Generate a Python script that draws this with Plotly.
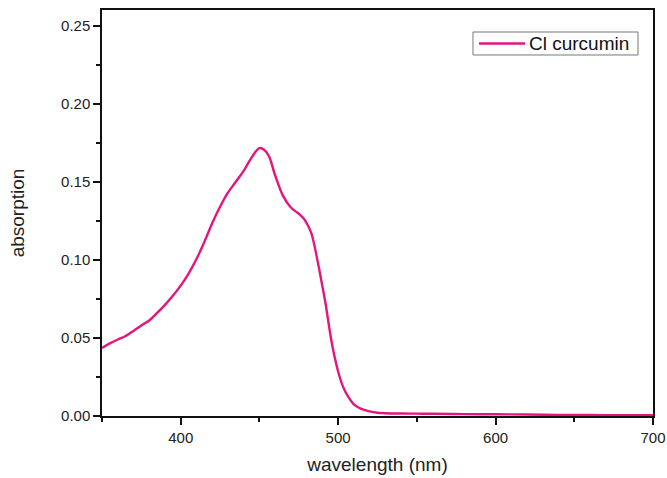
import plotly.graph_objects as go

wavelength = [350, 355, 360, 365, 370, 375, 380, 385, 390, 395, 400, 405, 410, 415,
              420, 425, 430, 435, 440, 445, 450, 453, 456, 460, 465, 470, 475, 478,
              480, 483, 487, 490, 492, 496, 500, 503, 506, 510, 514, 520, 525, 530,
              540, 550, 560, 580, 600, 620, 640, 660, 680, 700]
absorption = [0.0436, 0.0465, 0.0490, 0.0512, 0.0545, 0.0580, 0.0612, 0.0660, 0.0712,
              0.0770, 0.0835, 0.0912, 0.1005, 0.1115, 0.1235, 0.1340, 0.1430, 0.1500,
              0.1570, 0.1655, 0.1716, 0.1705, 0.1665, 0.1540, 0.1410, 0.1335, 0.1295,
              0.1267, 0.1235, 0.1170, 0.0990, 0.0830, 0.0720, 0.0466, 0.0285, 0.0190,
              0.0130, 0.0075, 0.0049, 0.0030, 0.0021, 0.0018, 0.0016, 0.0015, 0.0014,
              0.0012, 0.0011, 0.0010, 0.0007, 0.0006, 0.0005, 0.0005]

series_name = "Cl curcumin"
series_color = "#e5157f"
x_ticks = [400, 500, 600, 700]
y_ticks = [0.00, 0.05, 0.10, 0.15, 0.20, 0.25]

font_family = "Arial, Liberation Sans, sans-serif"

fig = go.Figure()
fig.add_trace(go.Scatter(
    x=wavelength, y=absorption, mode="lines", name=series_name,
    line=dict(color=series_color, width=2.4, shape="spline", smoothing=1.0),
    showlegend=False,
))

# legend box drawn in paper coordinates (compact, like the original)
fig.add_shape(type="rect", xref="paper", yref="paper",
              x0=0.6733, x1=0.9728, y0=0.8892, y1=0.9458,
              line=dict(color="#777777", width=1), fillcolor="white", layer="above")
fig.add_shape(type="line", xref="paper", yref="paper",
              x0=0.6842, x1=0.7677, y0=0.9175, y1=0.9175,
              line=dict(color=series_color, width=2.4), layer="above")
fig.add_annotation(text=series_name, xref="paper", yref="paper",
                   x=0.7713, y=0.9175, xanchor="left", yanchor="middle",
                   showarrow=False, font=dict(size=19, color="#111111"))

fig.update_layout(
    width=667, height=478,
    margin=dict(l=102, r=14, t=10, b=62, autoexpand=False),
    paper_bgcolor="white", plot_bgcolor="white",
    font=dict(family=font_family, color="#222222", size=15),
    showlegend=False,
)

fig.update_xaxes(
    range=[350, 700], tickvals=x_ticks, ticktext=[str(v) for v in x_ticks],
    showgrid=False, zeroline=False, automargin=False,
    showline=True, linecolor="#111111", linewidth=1.5, mirror=True,
    ticks="outside", ticklen=7, tickwidth=1.5, tickcolor="#111111",
    minor=dict(tickvals=[350, 450, 550, 650], ticks="outside", ticklen=4,
               tickwidth=1.5, tickcolor="#111111", showgrid=False),
    title=dict(text="wavelength (nm)", font=dict(size=19, color="#222222"), standoff=13),
    tickfont=dict(size=15),
)
fig.update_yaxes(
    range=[0, 0.26], tickvals=y_ticks, ticktext=["%.2f" % v for v in y_ticks],
    showgrid=False, zeroline=False, automargin=False,
    showline=True, linecolor="#111111", linewidth=1.5, mirror=True,
    ticks="outside", ticklen=7, tickwidth=1.5, tickcolor="#111111",
    minor=dict(tickvals=[0.025, 0.075, 0.125, 0.175, 0.225], ticks="outside", ticklen=4,
               tickwidth=1.5, tickcolor="#111111", showgrid=False),
    title=dict(text="absorption", font=dict(size=19, color="#222222"), standoff=31),
    tickfont=dict(size=15),
)

fig.write_html("out.html", config={"displayModeBar": False},
               post_script="document.body.style.margin='0px';")
